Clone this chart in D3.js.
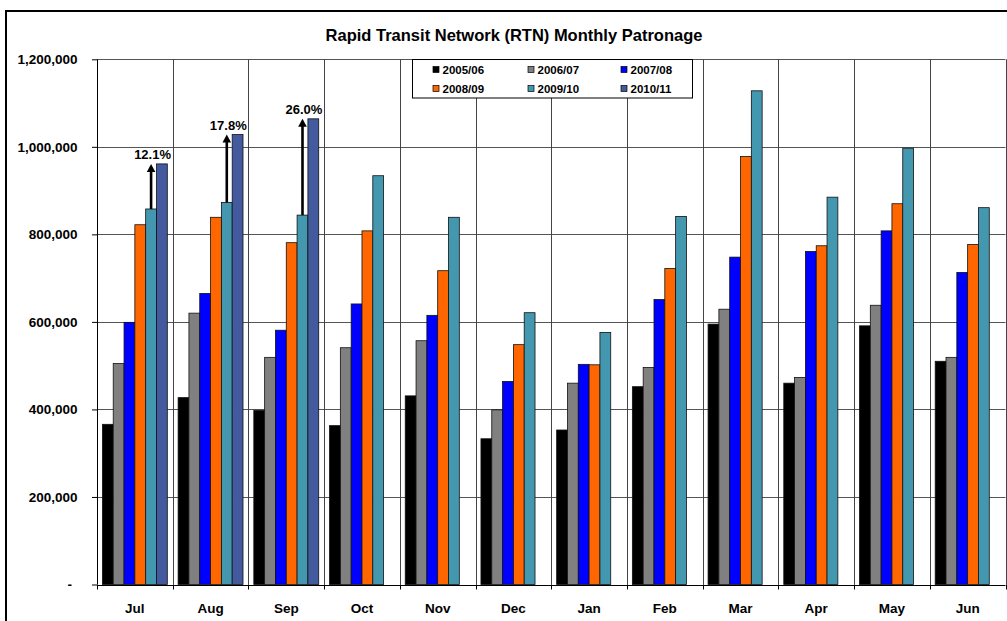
<!DOCTYPE html>
<html>
<head>
<meta charset="utf-8">
<script src="https://cdn.jsdelivr.net/npm/d3@7"></script>
<style>
  body { margin: 0; background: #fff; }
  svg text { font-family: "Liberation Sans", Arial, sans-serif; font-weight: bold; fill: #000; }
</style>
</head>
<body>
<div id="chart"></div>
<script>
// months on the x axis (financial year order)
const months = ["Jul", "Aug", "Sep", "Oct", "Nov", "Dec", "Jan", "Feb", "Mar", "Apr", "May", "Jun"];
const seriesNames = ["2005/06", "2006/07", "2007/08", "2008/09", "2009/10", "2010/11"];
const seriesColors = ["#000000", "#808080", "#0000FF", "#FF6600", "#4398B0", "#435A9E"];

// monthly patronage
const fy0506 = [366000, 427000, 398000, 363000, 431000, 333000, 353000, 452000, 595000, 460000, 591000, 510000];
const fy0607 = [505000, 620000, 519000, 541000, 557000, 399000, 460000, 496000, 629000, 473000, 638000, 519000];
const fy0708 = [599000, 665000, 581000, 641000, 615000, 464000, 503000, 651000, 748000, 761000, 808000, 713000];
const fy0809 = [822000, 839000, 781000, 808000, 717000, 548000, 502000, 722000, 978000, 774000, 870000, 777000];
const fy0910 = [858000, 873000, 844000, 934000, 839000, 621000, 576000, 841000, 1128000, 885000, 997000, 861000];
const fy1011 = [961000, 1028000, 1064000, null, null, null, null, null, null, null, null, null];

// growth labels (2010/11 vs 2009/10)
const growthMonths = ["Jul", "Aug", "Sep"];
const growthLabels = ["12.1%", "17.8%", "26.0%"];

const yTicks = [0, 200000, 400000, 600000, 800000, 1000000, 1200000];

const allSeries = [fy0506, fy0607, fy0708, fy0809, fy0910, fy1011];

const width = 1007, height = 621;
const plot = { left: 97, right: 1005.5, top: 59.3, bottom: 584.5 };

const svg = d3.select("#chart").append("svg")
    .attr("width", width)
    .attr("height", height);

// outer chart border
svg.append("rect")
    .attr("x", 6).attr("y", 11)
    .attr("width", 1010).attr("height", 620)
    .attr("fill", "none")
    .attr("stroke", "#000")
    .attr("stroke-width", 2);

// Title
svg.append("text")
    .attr("x", 514).attr("y", 41)
    .attr("text-anchor", "middle")
    .style("font-size", "16.5px")
    .text("Rapid Transit Network (RTN) Monthly Patronage");

// scales
const x0 = d3.scaleBand()
    .domain(months)
    .range([plot.left, plot.right])
    .padding(0);

const x1 = d3.scaleBand()
    .domain(seriesNames)
    .range([0, x0.bandwidth()])
    .paddingInner(0)
    .paddingOuter(0.5);

const y = d3.scaleLinear()
    .domain([0, 1200000])
    .range([plot.bottom, plot.top]);

const color = d3.scaleOrdinal().domain(seriesNames).range(seriesColors);

// horizontal gridlines
svg.append("g")
    .selectAll("line")
    .data(yTicks.filter(d => d > 0))
    .enter().append("line")
    .attr("x1", plot.left).attr("x2", plot.right)
    .attr("y1", d => Math.round(y(d)) + 0.5)
    .attr("y2", d => Math.round(y(d)) + 0.5)
    .attr("stroke", "#555")
    .attr("stroke-width", 1);

// vertical gridlines at category boundaries
const boundaries = months.slice(1).map(m => x0(m)).concat([plot.right]);
svg.append("g")
    .selectAll("line")
    .data(boundaries)
    .enter().append("line")
    .attr("x1", d => Math.round(d) + 0.5)
    .attr("x2", d => Math.round(d) + 0.5)
    .attr("y1", plot.top)
    .attr("y2", plot.bottom)
    .attr("stroke", "#444")
    .attr("stroke-width", 1);

// bars
const barData = [];
months.forEach((m, i) => {
    seriesNames.forEach((s, j) => {
        const v = allSeries[j][i];
        if (v != null) barData.push({ month: m, series: s, value: v });
    });
});

svg.append("g")
    .selectAll("rect")
    .data(barData)
    .enter().append("rect")
    .attr("x", d => x0(d.month) + x1(d.series))
    .attr("y", d => y(d.value))
    .attr("width", x1.bandwidth())
    .attr("height", d => y(0) - y(d.value))
    .attr("fill", d => color(d.series))
    .attr("stroke", "#111")
    .attr("stroke-width", 0.8);

// growth arrows from 2009/10 top to 2010/11 top
const arrows = growthMonths.map((m, k) => {
    const i = months.indexOf(m);
    return { month: m, from: fy0910[i], to: fy1011[i], label: growthLabels[k] };
});

const arrowG = svg.append("g");
arrows.forEach(a => {
    const ax = x0(a.month) + x1("2009/10") + x1.bandwidth() / 2;
    const yTop = y(a.to);
    arrowG.append("line")
        .attr("x1", ax).attr("x2", ax)
        .attr("y1", y(a.from))
        .attr("y2", yTop + 7)
        .attr("stroke", "#000")
        .attr("stroke-width", 2.6);
    arrowG.append("path")
        .attr("d", `M${ax - 4.3},${yTop + 8} L${ax + 4.3},${yTop + 8} L${ax},${yTop} Z`)
        .attr("fill", "#000");
    arrowG.append("text")
        .attr("x", ax + 1.5)
        .attr("y", yTop - 5)
        .attr("text-anchor", "middle")
        .style("font-size", "13px")
        .text(a.label);
});

// y axis
const yAxis = svg.append("g")
    .attr("transform", `translate(${plot.left},0)`)
    .call(d3.axisLeft(y)
        .tickValues(yTicks)
        .tickSize(5)
        .tickPadding(14.5)
        .tickFormat(d => d === 0 ? "-" : d3.format(",")(d)));
yAxis.select(".domain").attr("stroke", "#000").attr("d", `M0.5,${plot.top}V${plot.bottom}`);
yAxis.selectAll(".tick line").attr("stroke", "#000");
yAxis.selectAll("text")
    .style("font-size", "13.5px")
    .style("font-family", "'Liberation Sans', Arial, sans-serif")
    .attr("fill", "#000");
yAxis.selectAll(".tick").filter(d => d === 0).select("text").attr("dx", -5.5);

// x axis with ticks at category boundaries
svg.append("line")
    .attr("x1", plot.left).attr("x2", plot.right)
    .attr("y1", Math.round(plot.bottom) + 0.5).attr("y2", Math.round(plot.bottom) + 0.5)
    .attr("stroke", "#000");

svg.append("g")
    .selectAll("line")
    .data([plot.left].concat(boundaries))
    .enter().append("line")
    .attr("x1", d => Math.round(d) + 0.5)
    .attr("x2", d => Math.round(d) + 0.5)
    .attr("y1", plot.bottom)
    .attr("y2", plot.bottom + 5)
    .attr("stroke", "#000");

svg.append("g")
    .selectAll("text")
    .data(months)
    .enter().append("text")
    .attr("x", d => x0(d) + x0.bandwidth() / 2)
    .attr("y", 612.5)
    .attr("text-anchor", "middle")
    .style("font-size", "13.5px")
    .text(d => d);

// legend
const legend = svg.append("g").attr("transform", "translate(412,59)");
legend.append("rect")
    .attr("x", 0.5).attr("y", 0.5)
    .attr("width", 280).attr("height", 38.5)
    .attr("fill", "#fff")
    .attr("stroke", "#000");

const legendCols = [21, 116, 209];
const legendRows = [10.5, 29.5];
seriesNames.forEach((s, i) => {
    const cx = legendCols[i % 3], cy = legendRows[Math.floor(i / 3)];
    legend.append("rect")
        .attr("x", cx).attr("y", cy - 3)
        .attr("width", 6).attr("height", 6)
        .attr("fill", color(s))
        .attr("stroke", "#000")
        .attr("stroke-width", 0.7);
    legend.append("text")
        .attr("x", cx + 9.5)
        .attr("y", cy + 4)
        .style("font-size", "11.5px")
        .text(s);
});
</script>
</body>
</html>
